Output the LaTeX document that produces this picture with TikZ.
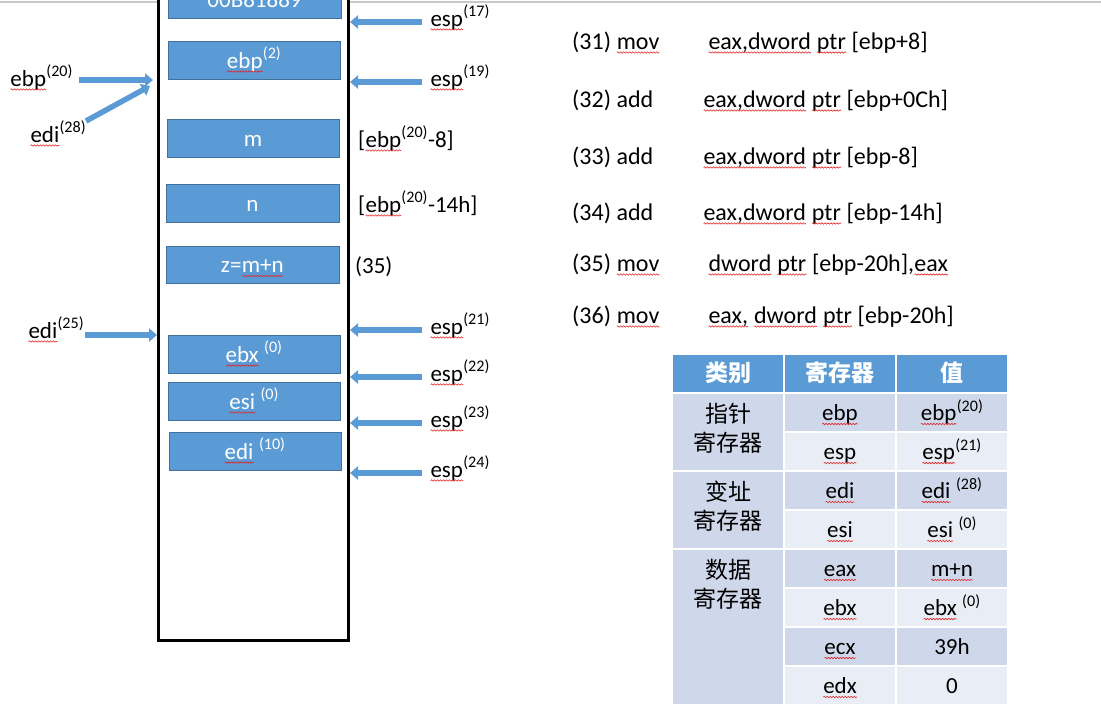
\documentclass[tikz,border=0pt]{standalone}
\usepackage{fontspec}
\setmainfont{Carlito}
\newfontfamily\cjk{Noto Sans CJK SC}
\usetikzlibrary{arrows.meta,decorations.pathmorphing}
\definecolor{accent}{HTML}{5B9BD5}
\definecolor{accentdark}{HTML}{41719C}
\definecolor{banddark}{HTML}{CFD8EA}
\definecolor{bandlight}{HTML}{E9EDF5}
\definecolor{topline}{HTML}{C8C8C8}
\definecolor{squiggle}{HTML}{E02828}
\newcommand\stdsize{\fontsize{23}{28}\selectfont}
\newcommand\codesize{\fontsize{24}{29}\selectfont}
\newcommand\wv[1]{\tikz[baseline=(wvn.base)]{\node[shape=rectangle,draw=none,fill=none,inner sep=0pt,outer sep=0pt,minimum width=0pt,minimum height=0pt,text height=,text depth=,anchor=base] (wvn) at (0,0) {#1};\draw[squiggle,line width=0.6pt,decorate,decoration={snake,amplitude=0.7pt,segment length=3pt}] ([yshift=-3.5pt]wvn.base west) -- ([yshift=-3.5pt]wvn.base east);}}
\begin{document}
\begin{tikzpicture}[x=1pt,y=-1pt,
  stackcell/.style={draw=accentdark,fill=accent,line width=0.9pt,text=white,font=\stdsize,minimum width=172pt,minimum height=38pt,inner sep=0pt,text height=20pt,text depth=4pt},
  blockarrow/.style={draw=accent,line width=5.5pt,-{Triangle[width=13pt,length=8pt]}},
  lbl/.style={font=\stdsize,inner sep=0pt,anchor=base west},
  code/.style={font=\codesize,inner sep=0pt,anchor=base west},
  cell/.style={minimum width=110pt,minimum height=37pt,inner sep=0pt,font=\stdsize,text height=20pt,text depth=4pt},
  headcell/.style={cell,fill=accent,text=white,font=\stdsize\cjk\bfseries},
  groupcell/.style={fill=banddark,minimum width=110pt,inner sep=0pt},
  cjkline/.style={font=\stdsize\cjk,inner sep=0pt,anchor=base}]
\useasboundingbox (0,0) rectangle (1101,716);
\draw[topline,line width=1.5pt] (0,2) -- (1101,2);
% stack
\node[draw,line width=3pt,fill=white,minimum width=190pt,minimum height=680pt,inner sep=0pt] (stack) at (253,300) {};
\node[stackcell,minimum width=173pt] (b1) at (254.5,-1) {00B81889};
\node[stackcell] (b2) at (254,60) {\wv{ebp}\textsuperscript{(2)}};
\node[stackcell] (b3) at (253,138) {m};
\node[stackcell,minimum width=173pt] (b4) at (252.5,203) {n};
\node[stackcell,minimum width=173pt,minimum height=37pt] (b5) at (252.5,264.5) {z=\wv{m+n}};
\node[stackcell] (b6) at (254,354) {\wv{ebx} \textsuperscript{(0)}};
\node[stackcell] (b7) at (254,401) {\wv{esi} \textsuperscript{(0)}};
\node[stackcell] (b8) at (255,451) {\wv{edi} \textsuperscript{(10)}};
% left pointers
\node[lbl] (lebp) at (10,86) {\wv{ebp}\textsuperscript{(20)}};
\coordinate (ebpS) at (79,80); \coordinate (ebpE) at (153,80);
\draw[blockarrow] (ebpS) -- (ebpE);
\node[lbl] (ledi) at (30,142) {\wv{edi}\textsuperscript{(28)}};
\coordinate (ediS) at (86,121); \coordinate (ediE) at (150,86);
\draw[blockarrow] (ediS) -- (ediE);
\node[lbl] (ledib) at (28,338) {\wv{edi}\textsuperscript{(25)}};
\coordinate (edibS) at (85,335); \coordinate (edibE) at (157,335);
\draw[blockarrow] (edibS) -- (edibE);
% right pointers
\foreach \n/\y in {17/22,19/82,21/330,22/377,23/423,24/473}{
  \coordinate (espS\n) at (422,\y);
  \coordinate (espE\n) at (350,\y);
  \draw[blockarrow] (espS\n) -- (espE\n);
  \node[lbl] (esp\n) at (430,\y+4) {\wv{esp}\textsuperscript{(\n)}};
}
\node[lbl] (off8) at (358,147) {[\wv{ebp}\textsuperscript{(20)}-8]};
\node[lbl] (off14) at (358,212) {[\wv{ebp}\textsuperscript{(20)}-14h]};
\node[lbl] (s35) at (355,273) {(35)};
% code
\node[code] (i31) at (572,49) {(31) \wv{mov}};
\node[code] (o31) at (708,49) {\wv{eax,dword} \wv{ptr} [ebp+8]};
\node[code] (i32) at (572,107) {(32) add};
\node[code] (o32) at (703,107) {\wv{eax,dword} \wv{ptr} [ebp+0Ch]};
\node[code] (i33) at (572,164) {(33) add};
\node[code] (o33) at (703,164) {\wv{eax,dword} \wv{ptr} [ebp-8]};
\node[code] (i34) at (572,220) {(34) add};
\node[code] (o34) at (703,220) {\wv{eax,dword} \wv{ptr} [ebp-14h]};
\node[code] (i35) at (572,271) {(35) \wv{mov}};
\node[code] (o35) at (708,271) {\wv{dword} \wv{ptr} [ebp-20h],\wv{eax}};
\node[code] (i36) at (572,323) {(36) \wv{mov}};
\node[code] (o36) at (708,323) {\wv{eax,} \wv{dword} \wv{ptr} [ebp-20h]};
% table
\node[headcell] (h1) at (728,373.5) {类别};
\node[headcell] (h2) at (840,373.5) {寄存器};
\node[headcell] (h3) at (952,373.5) {值};
\node[groupcell,minimum height=76pt] (g1) at (728,432) {};
\node[groupcell,minimum height=76pt] (g2) at (728,510) {};
\node[groupcell,minimum height=154pt] (g3) at (728,627) {};
\node[cjkline] (g1a) at (728,422) {指针};
\node[cjkline] (g1b) at (728,451) {寄存器};
\node[cjkline] (g2a) at (728,500) {变址};
\node[cjkline] (g2b) at (728,529) {寄存器};
\node[cjkline] (g3a) at (728,578) {数据};
\node[cjkline] (g3b) at (728,607) {寄存器};
\foreach \i/\reg/\val/\col in {
  1/ebp/{\wv{ebp}\textsuperscript{(20)}}/banddark,
  2/esp/{\wv{esp}\textsuperscript{(21)}}/bandlight,
  3/edi/{\wv{edi} \textsuperscript{(28)}}/banddark,
  4/esi/{\wv{esi} \textsuperscript{(0)}}/bandlight,
  5/eax/{\wv{m+n}}/banddark,
  6/ebx/{\wv{ebx} \textsuperscript{(0)}}/bandlight,
  7/ecx/{39h}/banddark,
  8/edx/{0}/bandlight}{
  \node[cell,fill=\col] (reg\i) at (840,{412.5+(\i-1)*39}) {\wv{\reg}};
  \node[cell,fill=\col] (val\i) at (952,{412.5+(\i-1)*39}) {\val};
}
\end{tikzpicture}
\end{document}
